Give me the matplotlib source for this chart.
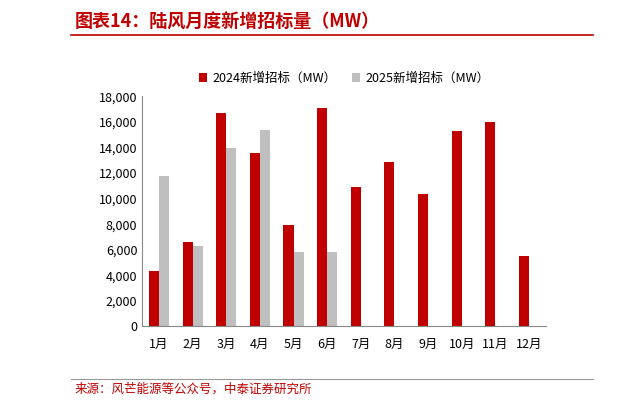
import matplotlib
matplotlib.use("Agg")
import matplotlib.pyplot as plt
import numpy as np

plt.rcParams['font.family'] = ['Noto Sans CJK SC', 'DejaVu Sans']

months = ["1月","2月","3月","4月","5月","6月","7月","8月","9月","10月","11月","12月"]
v2024 = [4300,6600,16700,13600,7900,17100,10900,12900,10400,15300,16000,5500]
v2025 = [11800,6300,14000,15400,5800,5800]
yticks = list(range(0,18001,2000))

fig = plt.figure(figsize=(6.21,4.07), dpi=100)
red = "#C00000"
fig.text(0.12, 0.945, "图表14：陆风月度新增招标量（MW）", color=red, fontsize=13,
         fontweight='bold', style='italic', va='center')
fig.add_artist(plt.Line2D([0.115,0.955],[0.913,0.913], color=red, lw=1.2, transform=fig.transFigure))
fig.add_artist(plt.Line2D([0.115,0.955],[0.068,0.068], color="#999999", lw=0.8, transform=fig.transFigure))
fig.text(0.12, 0.043, "来源：风芒能源等公众号，中泰证券研究所", color=red, fontsize=9, va='center')

ax = fig.add_axes([0.229, 0.198, 0.65, 0.565])
x = np.arange(len(months))
w = 0.3
ax.bar(x[:len(v2024)]-w/2, v2024, w, color="#C00000", label="2024新增招标（MW）")
ax.bar(x[:len(v2025)]+w/2, v2025, w, color="#BFBFBF", label="2025新增招标（MW）")
ax.set_xlim(-0.5, 11.5)
ax.set_ylim(0, 18000)
ax.set_yticks(yticks)
ax.set_yticklabels([f"{t:,}" for t in yticks], fontsize=9)
ax.set_xticks(x)
ax.set_xticklabels(months, fontsize=9)
for s in ["top","right"]:
    ax.spines[s].set_visible(False)
ax.spines["left"].set_color("#888888")
ax.spines["bottom"].set_color("#888888")
ax.tick_params(length=0)
ax.tick_params(axis='x', pad=8)
ax.legend(loc='lower center', bbox_to_anchor=(0.5, 1.0), ncol=2, frameon=False,
          fontsize=9, handlelength=0.7, handleheight=0.7, columnspacing=1.2, handletextpad=0.4)
fig.savefig("out.png", dpi=100)
